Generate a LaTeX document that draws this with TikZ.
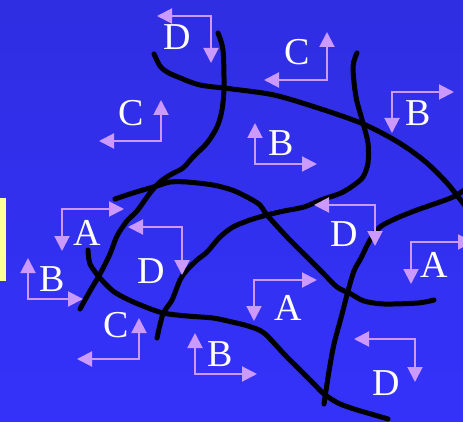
\documentclass[tikz,border=0pt]{standalone}
\usepackage{fontspec}
\setmainfont{Liberation Serif}
\usepackage{tikz}
\usetikzlibrary{
    arrows.meta,
    positioning
}
\tikzset{
  turn/.style    = {{Triangle[width=15pt,length=15pt]}-{Triangle[width=15pt,length=15pt]},
                    lilac, line width=2pt},
  crack/.style   = {line width=5pt, line cap=round, line join=round},
  lbl/.style     = {text=white, inner sep=0pt, font=\fontsize{38}{38}\selectfont}
}
\definecolor{lilac}{RGB}{204,153,255}
\definecolor{bgtop}{RGB}{48,46,226}
\definecolor{bgbot}{RGB}{52,50,250}
\definecolor{barcol}{RGB}{255,255,153}

\begin{document}
\begin{tikzpicture}[x=1pt, y=-1pt]
  \useasboundingbox (0,0) rectangle (463,422);
  \shade[top color=bgtop, bottom color=bgbot] (0,0) rectangle (463,422);
  \clip (0,0) rectangle (463,422);
  \fill[barcol] (0,198) rectangle (6,281);

  % black boundary lines
  \draw[crack] plot[smooth, tension=0.5] coordinates {(154,54) (160,66) (167,72) (178,77) (200,85)
    (232,89) (274,95) (318,108) (361,123) (391,138) (410,150) (428,164) (447,183) (466,207)};
  \draw[crack] plot[smooth, tension=0.5] coordinates {(218,33) (223,50) (224,87) (222,110) (217,127)
    (207,143) (193,157) (183,168) (170,175) (160,182) (150,193) (137,211) (127,221) (117,236)
    (110,254) (100,274) (90,291) (80,309)};
  \draw[crack] plot[smooth, tension=0.5] coordinates {(115,199) (133,193) (160,185) (170,182) (187,182)
    (213,185) (232,190) (247,197) (260,205) (267,215) (287,237) (307,257) (323,273) (337,287)
    (351,294) (364,301) (384,304) (418,303) (434,300)};
  \draw[crack] plot[smooth, tension=0.5] coordinates {(357,53) (353,67) (356,97) (363,123) (368,143)
    (368,163) (363,177) (354,185) (341,193) (321,200) (304,207) (284,211) (267,215) (250,220)
    (233,227) (220,237) (207,252) (197,260) (187,270) (180,280) (172,300) (163,314) (157,338)};
  \draw[crack] plot[smooth, tension=0.5] coordinates {(88,250) (90,264) (100,278) (113,291) (127,299)
    (143,306) (163,313) (187,316) (213,318) (232,322) (248,326) (264,333) (284,354) (298,368)
    (314,384) (324,394) (338,403) (354,409) (371,414) (388,419)};
  \draw[crack] plot[smooth, tension=0.5] coordinates {(466,189) (453,197) (437,203) (417,210) (397,218)
    (380,227) (370,240) (361,258) (354,271) (348,291) (341,318) (334,344) (329,371) (324,404)};

  % turning arrows, corner + two tips
  \coordinate (d1) at (211,16);  \coordinate (d1h) at (157,16);  \coordinate (d1v) at (211,63);
  \coordinate (c1) at (161,141); \coordinate (c1h) at (99,141);  \coordinate (c1v) at (161,100);
  \coordinate (c2) at (327,80);  \coordinate (c2h) at (264,80);  \coordinate (c2v) at (327,32);
  \coordinate (b1) at (255,164); \coordinate (b1h) at (317,164); \coordinate (b1v) at (255,123);
  \coordinate (b2) at (392,92);  \coordinate (b2h) at (454,92);  \coordinate (b2v) at (392,133);
  \coordinate (a1) at (62,209);  \coordinate (a1h) at (124,209); \coordinate (a1v) at (62,251);
  \coordinate (b3) at (28,299);  \coordinate (b3h) at (83,299);  \coordinate (b3v) at (28,258);
  \coordinate (d2) at (182,227); \coordinate (d2h) at (128,227); \coordinate (d2v) at (182,275);
  \coordinate (c3) at (139,359); \coordinate (c3h) at (77,359);  \coordinate (c3v) at (139,318);
  \coordinate (b4) at (195,374); \coordinate (b4h) at (257,374); \coordinate (b4v) at (195,333);
  \coordinate (d3) at (375,205); \coordinate (d3h) at (314,205); \coordinate (d3v) at (375,246);
  \coordinate (a2) at (411,242); \coordinate (a2h) at (473,242); \coordinate (a2v) at (411,284);
  \coordinate (a3) at (254,280); \coordinate (a3h) at (317,280); \coordinate (a3v) at (254,321);
  \coordinate (d4) at (415,339); \coordinate (d4h) at (354,339); \coordinate (d4v) at (415,382);

  \draw[turn] (d1h) -- (d1) -- (d1v);
  \draw[turn] (c1h) -- (c1) -- (c1v);
  \draw[turn] (c2h) -- (c2) -- (c2v);
  \draw[turn] (b1h) -- (b1) -- (b1v);
  \draw[turn] (b2h) -- (b2) -- (b2v);
  \draw[turn] (a1h) -- (a1) -- (a1v);
  \draw[turn] (b3h) -- (b3) -- (b3v);
  \draw[turn] (d2h) -- (d2) -- (d2v);
  \draw[turn] (c3h) -- (c3) -- (c3v);
  \draw[turn] (b4h) -- (b4) -- (b4v);
  \draw[turn] (d3h) -- (d3) -- (d3v);
  \draw[turn] (a2h) -- (a2) -- (a2v);
  \draw[turn] (a3h) -- (a3) -- (a3v);
  \draw[turn] (d4h) -- (d4) -- (d4v);

  % letters
  \node[lbl] (ld1) at (177,37)  {D};
  \node[lbl] (lc1) at (131,113) {C};
  \node[lbl] (lc2) at (297,52)  {C};
  \node[lbl] (lb1) at (281,143) {B};
  \node[lbl] (lb2) at (418,113) {B};
  \node[lbl] (la1) at (87,233)  {A};
  \node[lbl] (lb3) at (52,279)  {B};
  \node[lbl] (ld2) at (151,271) {D};
  \node[lbl] (lc3) at (116,325) {C};
  \node[lbl] (lb4) at (220,354) {B};
  \node[lbl] (ld3) at (344,234) {D};
  \node[lbl] (la2) at (434,265) {A};
  \node[lbl] (la3) at (288,308) {A};
  \node[lbl] (ld4) at (386,383) {D};
\end{tikzpicture}
\end{document}
